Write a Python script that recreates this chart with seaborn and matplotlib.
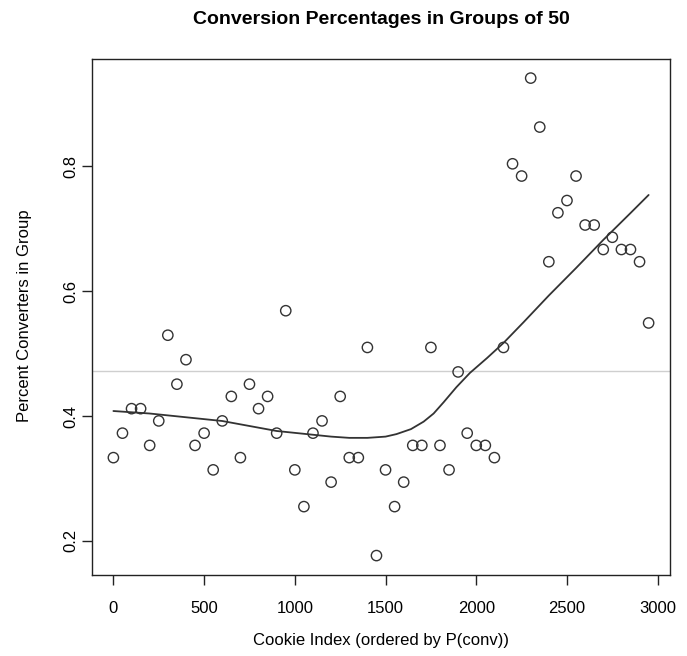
# Conversion percentages in groups of 50 (R base-graphics look)
import numpy as np
import pandas as pd
import matplotlib
matplotlib.use("Agg")
import matplotlib.pyplot as plt
import seaborn as sns

# -----------------------------------------
# Data
# -----------------------------------------

# group start index (cookie index)
group_index = list(range(0, 3000, 50))

# converters per group (out of 51)
converters = [17, 19, 21, 21, 18, 20, 27, 23, 25, 18,
              19, 16, 20, 22, 17, 23, 21, 22, 19, 29,
              16, 13, 19, 20, 15, 22, 17, 17, 26, 9,
              16, 13, 15, 18, 18, 26, 18, 16, 24, 19,
              18, 18, 17, 26, 41, 40, 48, 44, 33, 37,
              38, 40, 36, 36, 34, 35, 34, 34, 33, 28]
group_size = 51

# smoothed trend line
smooth_x = [0, 200, 400, 600, 750, 900, 1000, 1100, 1200, 1300, 1400, 1500,
            1560, 1640, 1710, 1765, 1820, 1890, 1965, 2060, 2150, 2260, 2400,
            2550, 2700, 2850, 2950]
smooth_y = [0.408, 0.404, 0.398, 0.392, 0.384, 0.376, 0.373, 0.370, 0.367,
            0.365, 0.365, 0.367, 0.371, 0.379, 0.391, 0.404, 0.422, 0.446,
            0.469, 0.493, 0.517, 0.550, 0.593, 0.637, 0.682, 0.725, 0.754]

df = pd.DataFrame({
    "index": group_index,
    "pct": np.array(converters) / group_size,
})
trend = pd.DataFrame({"index": smooth_x, "pct": smooth_y})
overall = df["pct"].mean()

# -----------------------------------------
# Plot
# -----------------------------------------

sns.set_style("white")
plt.rcParams["font.family"] = ["Liberation Sans", "DejaVu Sans"]
plt.rcParams["text.color"] = "black"

fig = plt.figure(figsize=(6.87, 6.56), dpi=100)
ax = fig.add_axes([0.1339, 0.1235, 0.8414, 0.7866])

ax.axhline(overall, color="#cfcfcf", linewidth=1.0, zorder=1)

sns.lineplot(data=trend, x="index", y="pct", ax=ax, color="#333333",
             linewidth=1.3, zorder=2)

sns.scatterplot(data=df, x="index", y="pct", ax=ax, marker="o", s=55,
                facecolor="none", edgecolor="#333333", linewidth=1.0,
                zorder=3)

ax.set_xlim(-118, 3068)
ax.set_ylim(0.1454, 0.9718)

ax.set_xticks([0, 500, 1000, 1500, 2000, 2500, 3000])
ax.set_yticks([0.2, 0.4, 0.6, 0.8])
ax.set_yticklabels(["0.2", "0.4", "0.6", "0.8"], rotation=90, va="center")

ax.tick_params(axis="both", direction="out", length=7, width=1,
               color="#222222", labelsize=12, labelcolor="black",
               bottom=True, left=True)
ax.tick_params(axis="x", pad=12)
ax.tick_params(axis="y", pad=2.5)

for side in ["left", "right", "top", "bottom"]:
    ax.spines[side].set_visible(True)
    ax.spines[side].set_color("#222222")
    ax.spines[side].set_linewidth(1.0)

ax.set_xlabel("")
ax.set_ylabel("")

fig.text(381 / 687, 1 - 20 / 656, "Conversion Percentages in Groups of 50",
         ha="center", va="center", fontsize=14, fontweight="bold")
fig.text(381 / 687, 1 - 640 / 656, "Cookie Index (ordered by P(conv))",
         ha="center", va="center", fontsize=12)
fig.text(25 / 687, 1 - 316 / 656, "Percent Converters in Group",
         ha="center", va="center", rotation=90, fontsize=12)

fig.savefig("out.png", dpi=100)
